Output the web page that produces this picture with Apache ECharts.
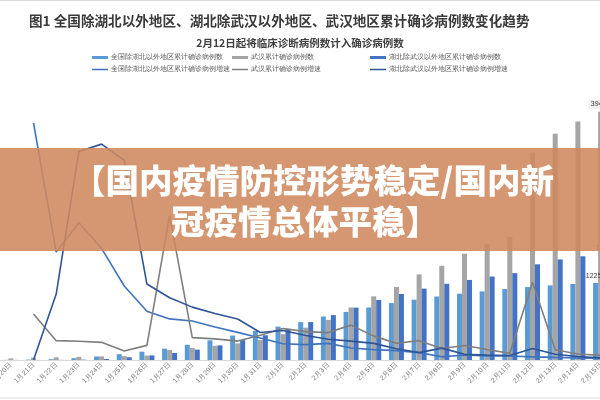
<!DOCTYPE html>
<html><head><meta charset="utf-8">
<script src="https://cdn.jsdelivr.net/npm/echarts@6/dist/echarts.min.js"></script>
<style>html,body{margin:0;padding:0;background:#fff}#c{width:600px;height:400px}</style>
</head><body><div id="c"></div>
<script>
const categories = ['1月20日','1月21日','1月22日','1月23日','1月24日','1月25日','1月26日','1月27日','1月28日','1月29日','1月30日','1月31日','2月1日','2月2日','2月3日','2月4日','2月5日','2月6日','2月7日','2月8日','2月9日','2月10日','2月11日','2月12日','2月13日','2月14日','2月15日'];
const nationalExHubei = [21,65,127,281,558,923,1321,1801,2420,3125,3886,4638,5306,6028,6916,7646,8353,9049,9593,10098,10540,10910,11287,11598,11865,12086,12251];
const wuhan = [258,363,425,495,572,618,698,1590,1905,2261,2639,3215,4109,5142,6384,8351,10117,11618,13603,14982,16902,18454,19558,32994,35991,37914,39462];
const hubeiExWuhan = [12,12,19,54,157,434,725,1124,1649,2325,3167,3938,4965,6035,7138,8327,9548,10494,11350,12118,12729,13274,13808,15212,15995,16492,16787];
const nationalExHubeiGrowth = [null,209.5,95.4,121.3,98.6,65.4,43.1,36.3,34.4,29.1,24.4,19.4,14.4,13.6,14.7,10.6,9.2,8.3,6.5,2.8,4.4,3.5,3.5,2.8,2.3,1.9,1.4];
const wuhanGrowth = [null,40.7,17.1,16.5,15.6,8.0,12.9,127.8,19.8,18.7,16.7,21.8,27.8,25.1,24.2,30.8,21.1,14.8,17.1,10.1,12.8,9.2,6.0,68.7,9.1,5.3,4.1];
const hubeiExWuhanGrowth = [null,0,58.3,184.2,190.7,176.4,67.1,55.0,46.7,41.0,36.2,24.3,26.1,21.6,18.3,16.7,14.7,9.9,6.5,10.5,5.0,4.3,4.0,10.2,5.1,3.1,1.8];

const names = ['全国除湖北以外地区累计确诊病例数','武汉累计确诊病例数','湖北除武汉以外地区累计确诊病例数',
  '全国除湖北以外地区累计确诊病例增速','武汉累计确诊病例增速','湖北除武汉以外地区累计确诊病例增速'];
const colors = ['#5B9BD5','#A5A5A5','#4472C4','#3F73BE','#7F7F7F','#2F5597'];

function lastLabel(arr, extra){
  return arr.map((v,i)=> i===arr.length-1 ? {value:v, label:Object.assign({show:true, position:'top', fontSize:7, color:'#404040', distance:3}, extra||{})} : v);
}
const legendPos = [[92,54],[232,54],[370,54],[92,66],[232,66],[370,66]];
const legends = names.map((n,i)=>({
  data:[{name:n, icon:'rect'}], left:legendPos[i][0], top:legendPos[i][1],
  itemWidth:16, itemHeight: i<3 ? 3 : 1.5, padding:0,
  textStyle:{fontSize:7, color:'#595959', padding:[0,0,0,-2]}
}));

const chart = echarts.init(document.getElementById('c'));
chart.setOption({
  animation:false,
  title:[
    {text:'图1 全国除湖北以外地区、湖北除武汉以外地区、武汉地区累计确诊病例数变化趋势', left:24, top:9,
     textStyle:{fontSize:13.6, fontWeight:'bold', color:'#3a3a3a', fontFamily:'"Noto Sans CJK SC"'}},
    {text:'2月12日起将临床诊断病例数计入确诊病例数', left:'center', top:33,
     textStyle:{fontSize:10.5, fontWeight:'bold', color:'#404040', fontFamily:'"Noto Sans CJK SC"'}}
  ],
  legend: legends,
  grid:{left:-0.5, width:612.4, top:77, bottom:40, containLabel:false, outerBoundsMode:'none'},
  xAxis:{type:'category', data:categories, boundaryGap:true,
    axisLine:{lineStyle:{color:'#D9D9D9'}}, axisTick:{show:false},
    axisLabel:{rotate:45, fontSize:7, color:'#7a7a7a', margin:4, interval:0}},
  yAxis:[
    {type:'value', min:0, max:45000, show:false, splitLine:{show:false}},
    {type:'value', min:0, max:250, show:false, splitLine:{show:false}}
  ],
  series:[
    {name:names[0], type:'bar', data:lastLabel(nationalExHubei), itemStyle:{color:colors[0]}, barWidth:5, barGap:'0%'},
    {name:names[1], type:'bar', data:lastLabel(wuhan,{backgroundColor:'#EFEFEF', padding:[1,2]}), itemStyle:{color:colors[1]}, barWidth:5, barGap:'0%'},
    {name:names[2], type:'bar', data:lastLabel(hubeiExWuhan), itemStyle:{color:colors[2]}, barWidth:5, barGap:'0%'},
    {name:names[3], type:'line', yAxisIndex:1, data:nationalExHubeiGrowth, symbol:'none', lineStyle:{color:colors[3], width:1.6}, itemStyle:{color:colors[3]}, z:3},
    {name:names[4], type:'line', yAxisIndex:1, data:wuhanGrowth, symbol:'none', lineStyle:{color:colors[4], width:1.6}, itemStyle:{color:colors[4]}, z:3},
    {name:names[5], type:'line', yAxisIndex:1, data:hubeiExWuhanGrowth, symbol:'none', lineStyle:{color:colors[5], width:1.6}, itemStyle:{color:colors[5]}, z:3}
  ],
  graphic:[
    {type:'rect', silent:true, z:1, shape:{x:-5, y:0.5, width:610, height:397.5}, style:{fill:'none', stroke:'#D9D9D9', lineWidth:1}},
    {type:'rect', silent:true, z:100, shape:{x:0, y:148, width:600, height:103}, style:{fill:'rgba(207,137,94,0.88)'}},
    {type:'text', silent:true, z:101, x:313, y:180, style:{text:'【国内疫情防控形势稳定/国内新', fill:'#fff', font:'900 33.5px "Noto Sans CJK SC"', textAlign:'center', textVerticalAlign:'middle'}},
    {type:'text', silent:true, z:101, x:305, y:221, style:{text:'冠疫情总体平稳】', fill:'#fff', font:'900 33.5px "Noto Sans CJK SC"', textAlign:'center', textVerticalAlign:'middle'}}
  ]
});
</script></body></html>
